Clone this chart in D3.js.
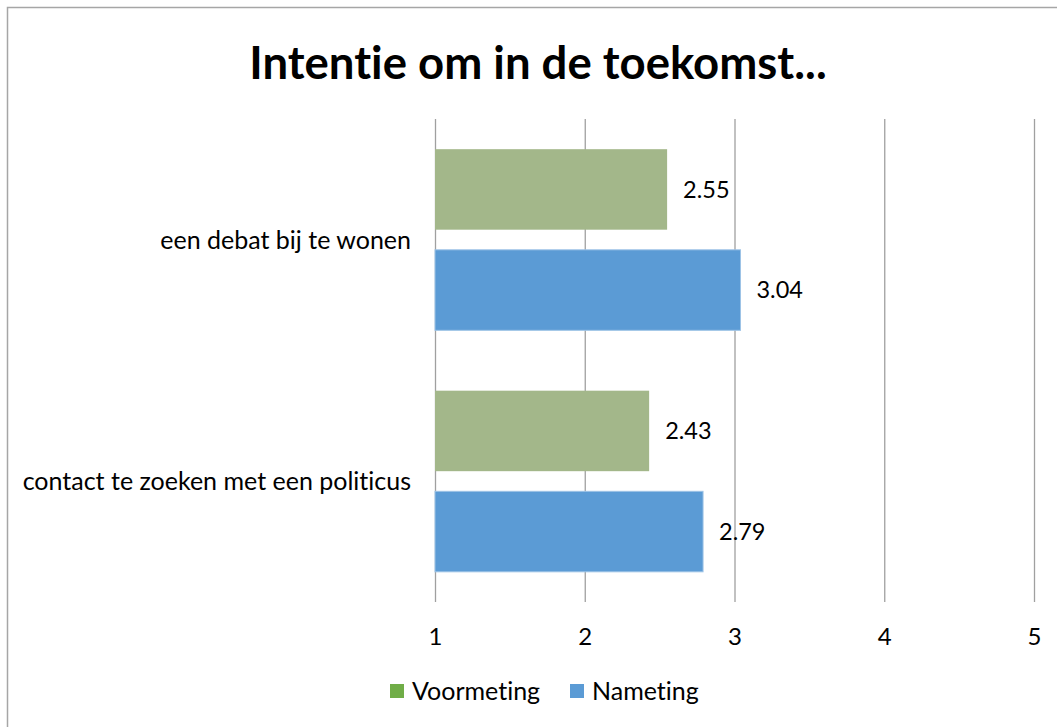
<!DOCTYPE html>
<html>
<head>
<meta charset="utf-8">
<script src="https://cdn.jsdelivr.net/npm/d3@7"></script>
<style>
  html, body { margin: 0; padding: 0; background: #fff; }
  svg { display: block; font-family: Lato, "Open Sans", sans-serif; font-variant-ligatures: none; font-feature-settings: "liga" 0, "dlig" 0; }
</style>
</head>
<body>
<div id="chart"></div>
<script>
// chart data
const categories = ['een debat bij te wonen', 'contact te zoeken met een politicus'];
const seriesNames = ['Voormeting', 'Nameting'];
const voormeting = [2.55, 2.43];
const nameting = [3.04, 2.79];
const xTicks = [1, 2, 3, 4, 5];

const barColors = { Voormeting: '#a3b78a', Nameting: '#5b9bd5' };
const legendColors = { Voormeting: '#70ad47', Nameting: '#5b9bd5' };

function renderChart() {
    const width = 1057, height = 727;
    const svg = d3.select('#chart').append('svg').attr('width', width).attr('height', height);

    // outer chart border (only top/left visible in frame)
    svg.append('rect').attr('x', 7.5).attr('y', 7.5).attr('width', width + 20).attr('height', height + 20)
        .attr('fill', 'none').attr('stroke', '#a6a6a6').attr('stroke-width', 1.5);

    svg.append('text').attr('x', 538).attr('y', 79).attr('text-anchor', 'middle')
        .style('font-size', '45.5px').style('font-weight', 'bold').style('fill', '#000')
        .text('Intentie om in de toekomst...');

    const rows = categories.map((c, i) => ({
        category: c,
        values: [
            { series: 'Voormeting', value: voormeting[i] },
            { series: 'Nameting', value: nameting[i] }
        ]
    }));

    const plot = { left: 435, right: 1034, top: 119, bottom: 602 };
    const x = d3.scaleLinear().domain([1, 5]).range([plot.left, plot.right]);
    const y = d3.scaleBand().domain(categories).range([plot.top, plot.bottom]).padding(0);
    const ySub = d3.scaleBand().domain(seriesNames).range([0, y.bandwidth()]).paddingInner(0.2).paddingOuter(0.3);

    // gridlines + tick labels
    const xAxis = d3.axisBottom(x).tickValues(xTicks).tickSize(-(plot.bottom - plot.top)).tickPadding(26).tickFormat(d3.format('d'));
    const xAxisG = svg.append('g').attr('transform', `translate(0, ${plot.bottom})`).call(xAxis);
    xAxisG.select('.domain').remove();
    xAxisG.selectAll('.tick line').attr('stroke', '#a0a0a0').attr('stroke-width', 1.3);
    xAxisG.selectAll('.tick text').style('fill', '#000').style('font-size', '24px').style('font-family', 'Lato, sans-serif');

    // category labels
    svg.append('g').selectAll('text').data(categories).enter().append('text')
        .attr('x', 411).attr('y', d => y(d) + y.bandwidth() / 2).attr('dy', '0.35em')
        .attr('text-anchor', 'end').style('font-size', '25px').style('fill', '#000')
        .text(d => d);

    const groups = svg.selectAll('g.cat').data(rows).enter().append('g')
        .attr('class', 'cat').attr('transform', d => `translate(0, ${y(d.category)})`);

    groups.selectAll('rect').data(d => d.values).enter().append('rect')
        .attr('x', x(1)).attr('y', d => ySub(d.series))
        .attr('width', d => x(d.value) - x(1)).attr('height', ySub.bandwidth())
        .attr('fill', d => barColors[d.series])
        .attr('stroke', d => d.series === 'Nameting' ? '#9dc3e6' : 'none').attr('stroke-width', 1);

    groups.selectAll('text.val').data(d => d.values).enter().append('text')
        .attr('class', 'val')
        .attr('x', d => x(d.value) + 16).attr('y', d => ySub(d.series) + ySub.bandwidth() / 2).attr('dy', '0.35em')
        .style('font-size', '23.5px').style('fill', '#000')
        .text(d => d.value.toFixed(2));

    // legend
    const legendItems = [{ name: 'Voormeting', x: 390 }, { name: 'Nameting', x: 570 }];
    const legend = svg.append('g').selectAll('g').data(legendItems).enter().append('g')
        .attr('transform', d => `translate(${d.x}, 691)`);
    legend.append('rect').attr('x', 0).attr('y', -7).attr('width', 14).attr('height', 14)
        .attr('fill', d => legendColors[d.name]);
    legend.append('text').attr('x', 22).attr('y', 0).attr('dy', '0.35em')
        .style('font-size', '25px').style('fill', '#000').text(d => d.name);
}

renderChart();
</script>
</body>
</html>
